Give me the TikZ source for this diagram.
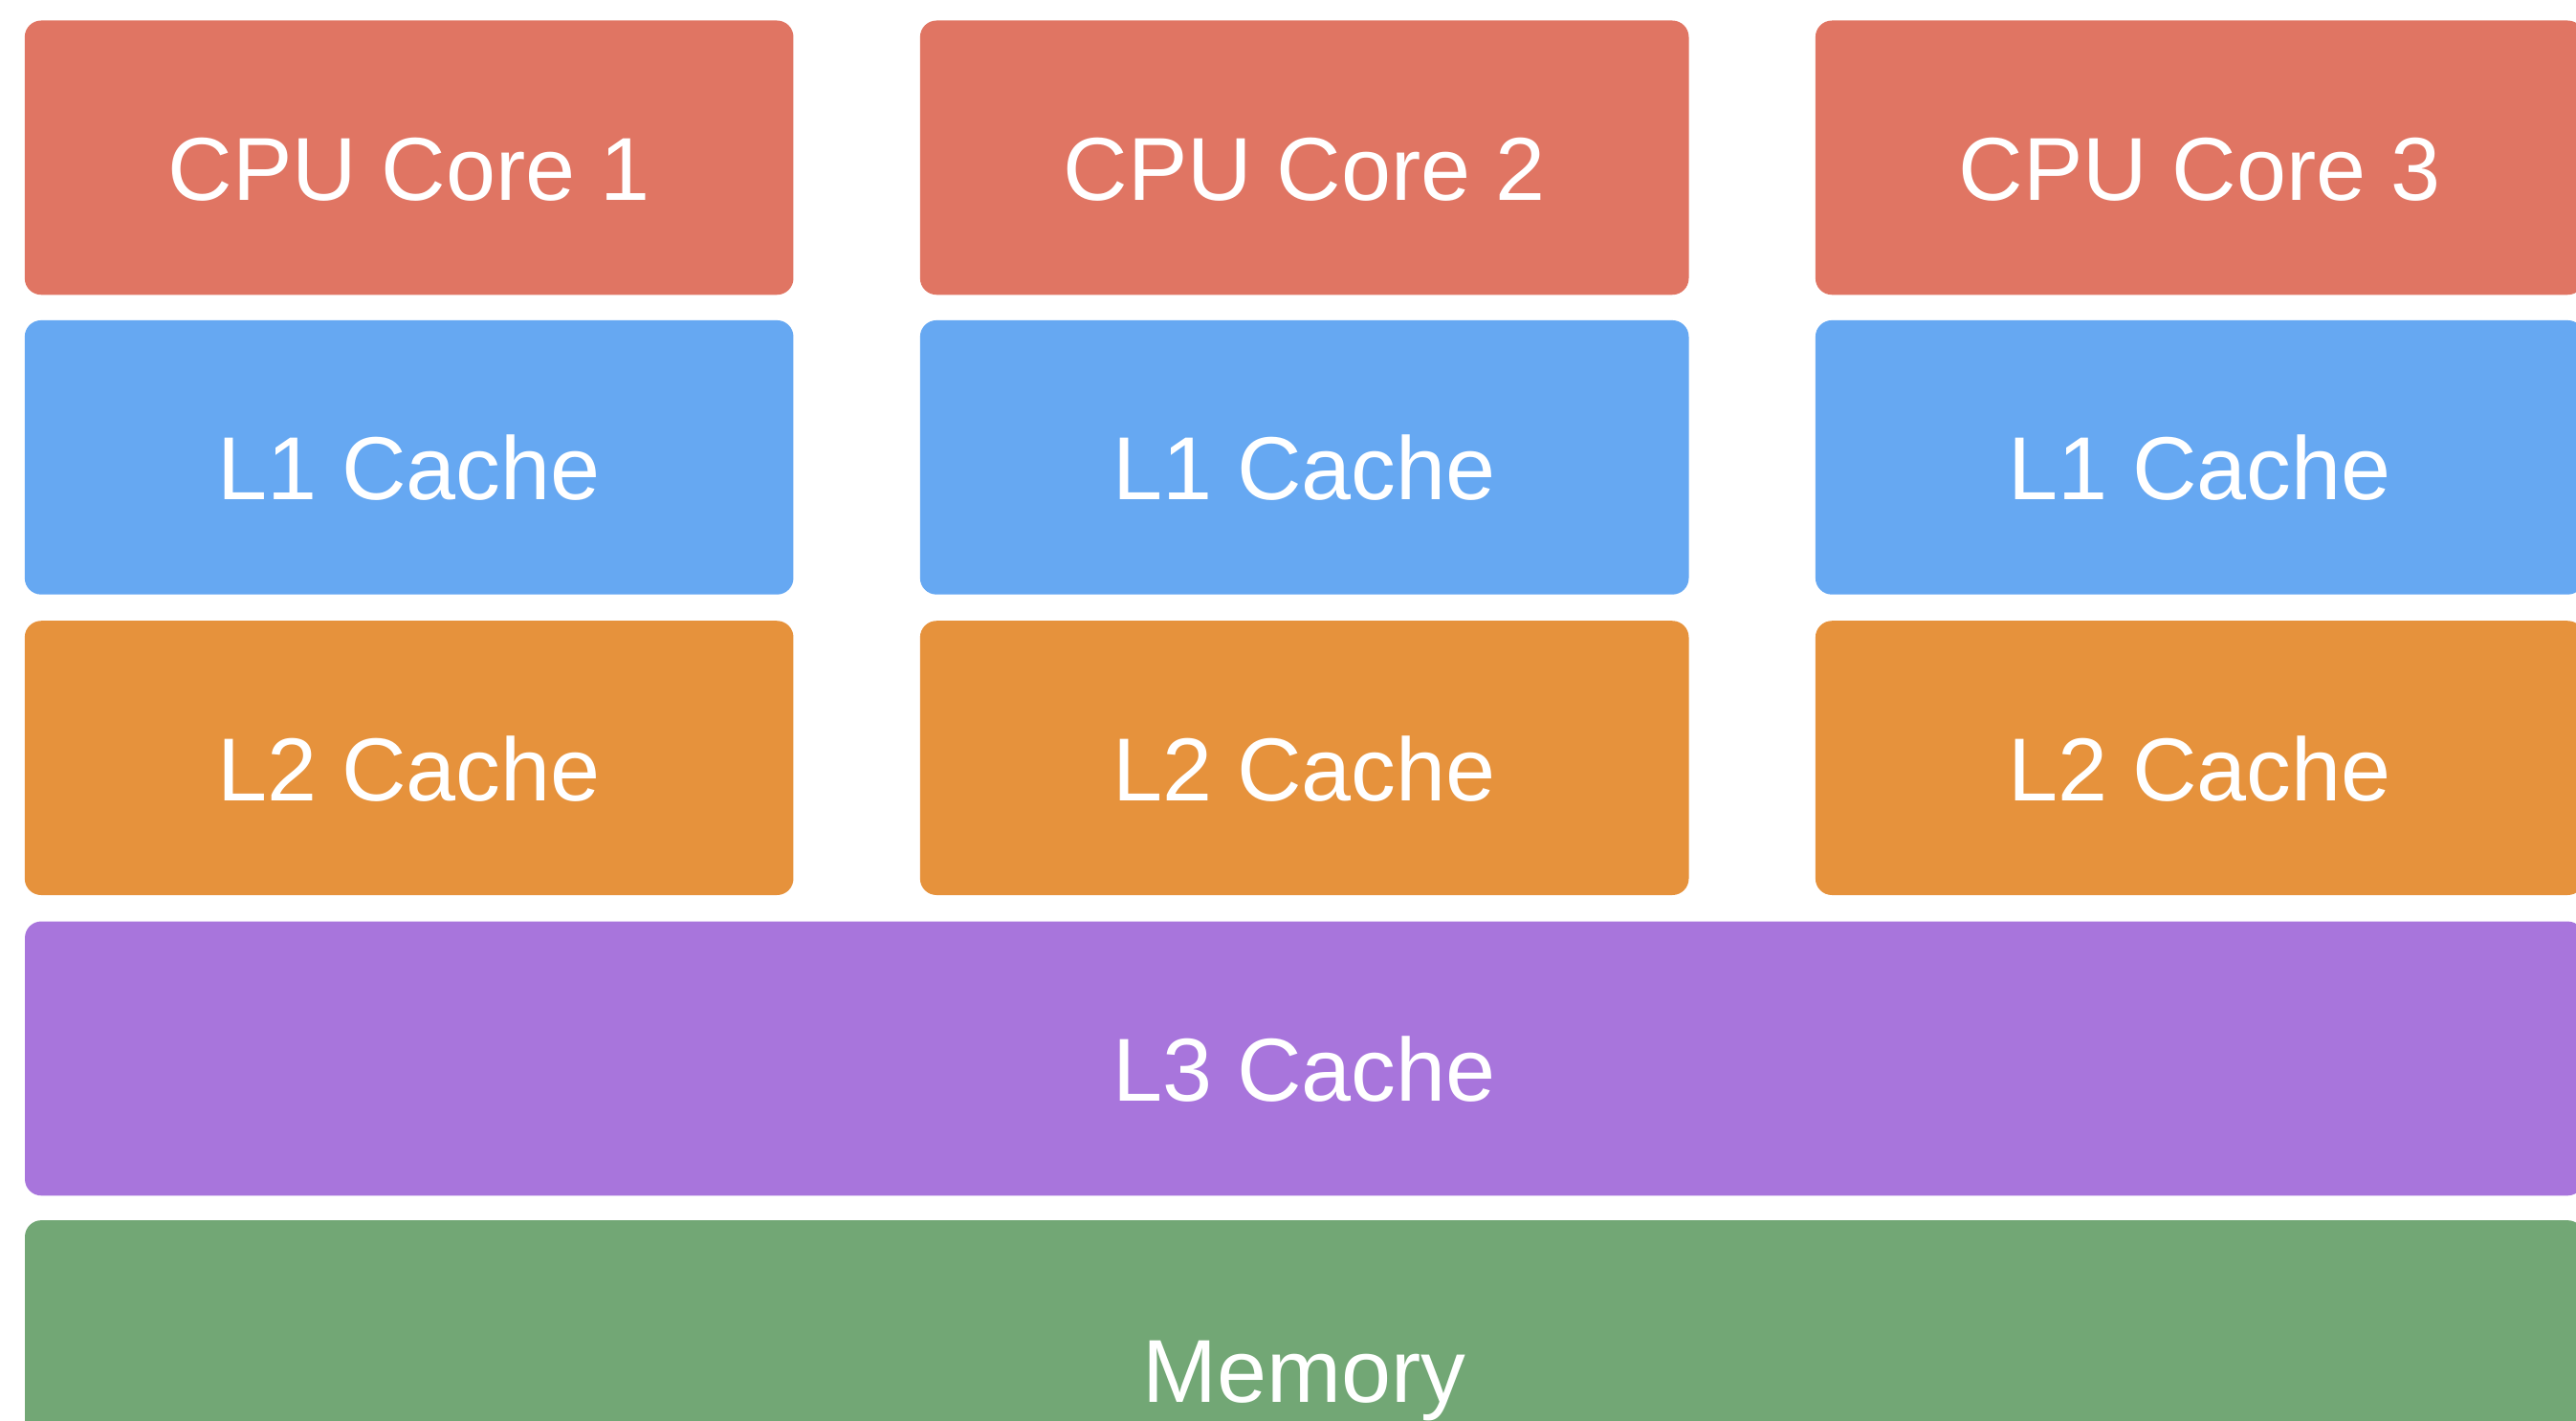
\documentclass[tikz,border=0pt]{standalone}
\usepackage{fontspec}
\setmainfont{Liberation Sans}
\definecolor{corered}{HTML}{E07563}
\definecolor{lonebl}{HTML}{66A8F2}
\definecolor{ltwoor}{HTML}{E6923C}
\definecolor{lthreepu}{HTML}{A875DC}
\definecolor{memgr}{HTML}{72A775}
\begin{document}
\begin{tikzpicture}[x=0.02cm,y=-0.02cm]
\tikzstyle{block}=[rectangle,rounded corners=0.2cm,draw=none,text=white,font=\fontsize{31}{36}\selectfont,minimum height=3.34cm,inner sep=0pt,text height=1.04cm,text depth=0cm]
\tikzstyle{small}=[block,minimum width=9.36cm]
\useasboundingbox (0,0) rectangle (1568,865);
\clip (0,0) rectangle (1568,865);
\node[small,fill=corered](C1) at (249,96) {CPU Core 1};
\node[small,fill=corered](C2) at (794,96) {CPU Core 2};
\node[small,fill=corered](C3) at (1339,96) {CPU Core 3};
\node[small,fill=lonebl](A1) at (249,278.5) {L1 Cache};
\node[small,fill=lonebl](A2) at (794,278.5) {L1 Cache};
\node[small,fill=lonebl](A3) at (1339,278.5) {L1 Cache};
\node[small,fill=ltwoor](B1) at (249,461.5) {L2 Cache};
\node[small,fill=ltwoor](B2) at (794,461.5) {L2 Cache};
\node[small,fill=ltwoor](B3) at (1339,461.5) {L2 Cache};
\node[block,fill=lthreepu,minimum width=31.16cm](L3) at (794,644.5) {L3 Cache};
\node[block,fill=memgr,minimum width=31.16cm,minimum height=3.4cm](M) at (794,828) {Memory};
\end{tikzpicture}
\end{document}
